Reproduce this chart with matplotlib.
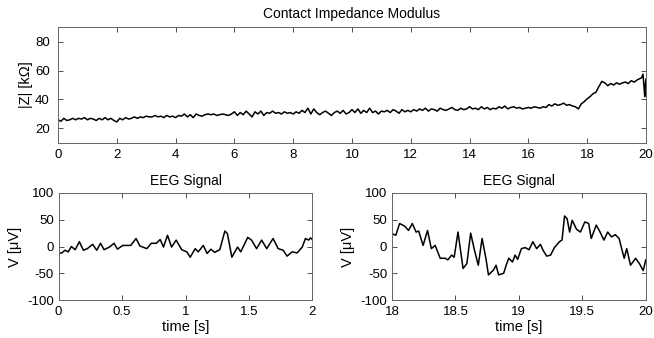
import numpy as np
import matplotlib
matplotlib.use("Agg")
import matplotlib.pyplot as plt

plt.rcParams['font.family'] = ['Liberation Sans', 'DejaVu Sans']
plt.rcParams['font.size'] = 9
plt.rcParams['axes.unicode_minus'] = False

# ---- Contact impedance modulus (kOhm), sampled every 0.1 s from 0 to 19.8 s, plus tail
z_vals = [
    26, 25, 27, 25.5, 26, 27, 26, 27, 26.5, 27.5, 26, 27, 26.5, 25.5, 27, 26, 27.5, 26, 27, 25.5, 24.5,
    27, 26, 27.5, 26.5, 27, 28, 27, 28, 27.5, 28.5, 28, 28, 29, 28, 28.5, 27.5, 29, 28, 28.5, 27.5,
    29, 28.5, 30, 28, 29.5, 27.5, 30, 29, 28.5, 29.5, 30, 29.5, 30, 29, 29.5, 30, 29.5, 29, 30, 31.5,
    29, 31, 29.5, 32, 30, 28, 31.5, 30, 32, 29, 31, 30.5, 32, 30.5, 31, 30, 31.5, 30.5, 31, 30,
    31.5, 30.5, 32.5, 31, 34, 30, 33.5, 31, 29.5, 31, 32, 30.5, 29, 31, 32, 30.5, 32.5, 30, 31, 33,
    31, 33.5, 30.5, 32.5, 31, 34, 31, 32, 30, 32, 31.5, 32.5, 31, 33, 32, 30.5, 33, 31.5, 32.5, 31.5,
    33, 32, 33.5, 32.5, 34, 32, 33.5, 33, 32, 34, 33, 32.5, 33.5, 34.5, 33, 32.5, 34, 33, 33.5, 35,
    33.5, 34, 33, 35, 33.5, 34.5, 33, 34, 33.5, 35, 34, 35.5, 33.5, 34.5, 35, 34, 34.5, 33.5, 34, 34.5,
    34, 35, 34.5, 34, 35, 34.5, 36.5, 35.5, 37, 36, 36.5, 37.5, 36, 36.5, 35.5, 35, 33.5, 37, 38.5, 40.5,
    42, 44, 45, 49, 52.5, 51.5, 49.5, 51, 50, 51.5, 50.5, 51.5, 52, 51, 53, 52, 53.5, 54.5,
]
z_tail_t = [19.85, 19.9, 19.93, 19.96, 19.98, 20.0]
z_tail = [55, 57.5, 50, 42, 50, 54]

# ---- EEG signal, first 2 s
eeg1_t = [0, 0.024, 0.05, 0.076, 0.10, 0.13, 0.163, 0.195, 0.226, 0.268, 0.30, 0.33, 0.358, 0.40,
          0.437, 0.463, 0.505, 0.568, 0.61, 0.64, 0.695, 0.73, 0.77, 0.80, 0.826, 0.858, 0.89,
          0.926, 0.97, 1.01, 1.037, 1.076, 1.10, 1.14, 1.17, 1.20, 1.23, 1.27, 1.31, 1.33, 1.365,
          1.41, 1.435, 1.49, 1.52, 1.56, 1.60, 1.64, 1.69, 1.73, 1.77, 1.80, 1.84, 1.88, 1.92,
          1.945, 1.97, 1.985, 2.0]
eeg1_v = [-13, -12, -7, -10, 0, -6, 9, -7, -4, 4, -7, 6, -6, -1,
          6, -5, 2, 2, 15, 1, -4, 6, 6, 13, -1, 21, -1,
          12, -6, -10, -20, -4, -10, 2, -13, -5, -11, -6, 29, 24, -20,
          -1, -10, 17, 12, -4, 12, -4, 15, -4, -7, -18, -10, -12, -1,
          15, 12, 16, 13]

# ---- EEG signal, 18-20 s
eeg2_t = [18.0, 18.03, 18.06, 18.10, 18.13, 18.16, 18.19, 18.21, 18.245, 18.28, 18.31, 18.34,
          18.38, 18.42, 18.44, 18.47, 18.49, 18.52, 18.56, 18.59, 18.62, 18.65, 18.68, 18.71,
          18.74, 18.76, 18.80, 18.82, 18.84, 18.88, 18.90, 18.92, 18.95, 18.97, 18.99, 19.02,
          19.05, 19.08, 19.11, 19.14, 19.17, 19.19, 19.22, 19.25, 19.28, 19.32, 19.34, 19.36,
          19.38, 19.40, 19.42, 19.455, 19.485, 19.52, 19.55, 19.57, 19.61, 19.64, 19.67, 19.70,
          19.73, 19.76, 19.79, 19.81, 19.83, 19.85, 19.88, 19.92, 19.95, 19.98, 20.0]
eeg2_v = [24, 21, 43, 38, 30, 43, 27, 29, 2, 30, -4, 2,
          -22, -22, -25, -16, -20, 27, -41, -32, 25, -7, -35, 15,
          -22, -53, -44, -35, -53, -50, -35, -22, -29, -16, -24, -4,
          -2, -6, 9, -4, 4, -7, -18, -16, -2, 9, 12, 57,
          52, 27, 49, 32, 27, 46, 43, 15, 40, 27, 12, 27,
          18, 22, 15, -4, -22, -4, -35, -22, -32, -45, -25]

z_t = list(np.round(np.arange(len(z_vals)) * 0.1, 2)) + z_tail_t
z_all = z_vals + z_tail

LAB = 10.5
TIT = 10
TICK = 9.5

fig = plt.figure(figsize=(6.54, 3.38), dpi=100)

def style(ax, ypad):
    ax.tick_params(direction='in', top=True, right=True, length=3.5, width=0.6,
                   labelsize=TICK, colors='#333333', labelcolor='black')
    ax.tick_params(axis='x', pad=4)
    ax.tick_params(axis='y', pad=ypad)
    for s in ax.spines.values():
        s.set_linewidth(0.7)
        s.set_color('#666666')

ax1 = fig.add_axes([0.0887, 0.577, 0.899, 0.343])
ax1.plot(z_t, z_all, color='black', lw=1.1)
ax1.set_xlim(0, 20)
ax1.set_ylim(10, 90)
ax1.set_xticks(range(0, 21, 2))
ax1.set_yticks([20, 40, 60, 80])
ax1.set_ylabel('|Z| [kΩ]', fontsize=LAB)
ax1.yaxis.set_label_coords(-0.043, 0.5)
ax1.set_title('Contact Impedance Modulus', fontsize=TIT, pad=6.5)
style(ax1, 6)

ax2 = fig.add_axes([0.0897, 0.1124, 0.388, 0.3166])
ax2.plot(eeg1_t, eeg1_v, color='black', lw=1.1)
ax2.set_xlim(0, 2)
ax2.set_ylim(-100, 100)
ax2.set_xticks([0, 0.5, 1, 1.5, 2])
ax2.set_xticklabels(['0', '0.5', '1', '1.5', '2'])
ax2.set_yticks([-100, -50, 0, 50, 100])
ax2.set_ylabel('V [μV]', fontsize=LAB)
ax2.yaxis.set_label_coords(-0.145, 0.5)
ax2.set_xlabel('time [s]', fontsize=LAB, labelpad=2)
ax2.set_title('EEG Signal', fontsize=TIT, pad=6)
style(ax2, 3.5)

ax3 = fig.add_axes([0.5994, 0.1124, 0.388, 0.3166])
ax3.plot(eeg2_t, eeg2_v, color='black', lw=1.1)
ax3.set_xlim(18, 20)
ax3.set_ylim(-100, 100)
ax3.set_xticks([18, 18.5, 19, 19.5, 20])
ax3.set_xticklabels(['18', '18.5', '19', '19.5', '20'])
ax3.set_yticks([-100, -50, 0, 50, 100])
ax3.set_ylabel('V [μV]', fontsize=LAB)
ax3.yaxis.set_label_coords(-0.145, 0.5)
ax3.set_xlabel('time [s]', fontsize=LAB, labelpad=2)
ax3.set_title('EEG Signal', fontsize=TIT, pad=6)
style(ax3, 3.5)

fig.savefig('out.png', dpi=100, facecolor='white')
